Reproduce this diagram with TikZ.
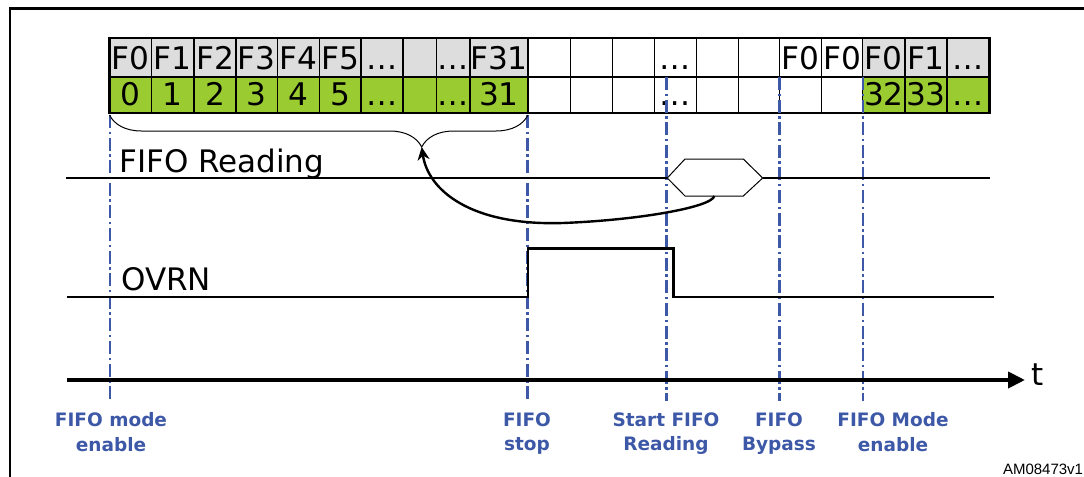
\documentclass[tikz,border=0pt]{standalone}
\usepackage{fontspec}
\setmainfont{DejaVu Sans}
\newfontfamily\codefont{Liberation Sans}
\usetikzlibrary{arrows.meta,decorations.pathreplacing}
\definecolor{cellgray}{RGB}{221,221,221}
\definecolor{cellgreen}{RGB}{154,204,50}
\definecolor{evblue}{RGB}{62,88,168}

\begin{document}
\begin{tikzpicture}[x=0.5pt, y=-0.5pt,
  cellline/.style={line width=0.65pt},
  tableframe/.style={line width=1.4pt},
  sigline/.style={line width=1.2pt},
  evline/.style={evblue, line width=1.25pt, dash pattern=on 6.5pt off 1.8pt on 1.2pt off 1.8pt},
  celltext/.style={anchor=base, inner sep=0pt, font=\fontsize{15.6}{18}\selectfont},
  siglabel/.style={anchor=base west, inner sep=0pt, font=\fontsize{15.5}{18}\selectfont},
  evlabel/.style={anchor=north, inner sep=0pt, align=center, text=evblue,
    font=\bfseries\fontsize{9.25}{12.15}\selectfont}]
\useasboundingbox (0,0) rectangle (1084,477);
\draw [line width=1.2pt] (10,477) -- (10,8.5) -- (1084,8.5);

% FIFO contents
\foreach \xl/\xr/\ta/\tb/\fa/\fb [count=\i] in {
  109.5/151.5/F0/0/cellgray/cellgreen, 151.5/194/F1/1/cellgray/cellgreen,
  194/236/F2/2/cellgray/cellgreen, 236/277.5/F3/3/cellgray/cellgreen,
  277.5/319.6/F4/4/cellgray/cellgreen, 319.6/361/F5/5/cellgray/cellgreen,
  361/403/…/…/cellgray/cellgreen, 403/436.6/{}/{}/cellgray/cellgreen,
  436.6/470/…/…/cellgray/cellgreen, 470/528/F31/31/cellgray/cellgreen,
  528/570.4/{}/{}/white/white, 570.4/612.4/{}/{}/white/white,
  612.4/654.2/{}/{}/white/white, 654.2/696.3/…/…/white/white,
  696.3/738.3/{}/{}/white/white, 738.3/779.7/{}/{}/white/white,
  779.7/821.4/F0/{}/white/white, 821.4/862.8/F0/{}/white/white,
  862.8/904.9/F0/32/cellgray/cellgreen, 904.9/947/F1/33/cellgray/cellgreen,
  947/989.4/…/…/cellgray/cellgreen} {
  \fill [\fa] (\xl,38) rectangle (\xr,77);
  \fill [\fb] (\xl,77) rectangle (\xr,113);
  \draw [cellline] (\xl,38) -- (\xl,113);
  \node [celltext] (top\i) at ({(\xl+\xr)/2},69.5) {\ta};
  \node [celltext] (bot\i) at ({(\xl+\xr)/2},105.5) {\tb};
}
\draw [cellline] (109.5,77) -- (989.4,77);
\draw [tableframe] (109.5,38) rectangle (989.4,113);

% event markers
\draw [evline] (110,115) -- (110,401);
\draw [evline] (527.7,115) -- (527.7,401);
\foreach \x in {666.7,779.3,862.8}
  \draw [evline] (\x,77) -- (\x,401);

% brace under the first 32 samples
\draw [line width=0.5pt, decorate,
  decoration={brace, mirror, amplitude=16pt, aspect=0.746}] (109.5,115) -- (528,115);
\coordinate (bracetip) at (421.7,147);

% FIFO Reading
\node [siglabel] (rdlabel) at (119,172) {FIFO Reading};
\draw [sigline] (66,178) -- (667.3,178);
\draw [line width=0.5pt] (667.3,178) -- (685,159) -- (743.3,159) -- (762.7,178)
  -- (743.3,196) -- (685,196) -- cycle;
\draw [sigline] (762.7,178) -- (990,178);
\coordinate (hexbot) at (714.3,196);
\draw [sigline, -{Stealth[length=6.5pt,width=6pt]}] (hexbot)
  .. controls (712,207) and (640,220) .. (563,223)
  .. controls (470,226) and (428,190) .. (bracetip);

% OVRN
\node [siglabel] (ovlabel) at (120.8,290.7) {OVRN};
\draw [sigline] (67,296.7) -- (527.7,296.7) -- (527.7,248.3) -- (673.3,248.3)
  -- (673.3,296.7) -- (994,296.7);

% time axis
\coordinate (tstart) at (67,380);
\coordinate (tend) at (1025,380);
\draw [line width=2pt, -{Triangle[length=8.5pt,width=8pt]}] (tstart) -- (tend);
\node [siglabel] (tlabel) at (1031,385.7) {t};

% events
\node [evlabel] (modeon) at (111,412.5) {FIFO mode\\enable};
\node [evlabel] (fstop) at (527,412.5) {FIFO\\stop};
\node [evlabel] (rdstart) at (666,412.5) {Start FIFO\\Reading};
\node [evlabel] (bypass) at (779,412.5) {FIFO\\Bypass};
\node [evlabel] (modeagain) at (893,412.5) {FIFO Mode\\enable};

\node [anchor=base east, inner sep=0pt, font=\codefont\fontsize{7.5}{9}\selectfont]
  (figcode) at (1083.5,474) {AM08473v1};
\end{tikzpicture}
\end{document}
